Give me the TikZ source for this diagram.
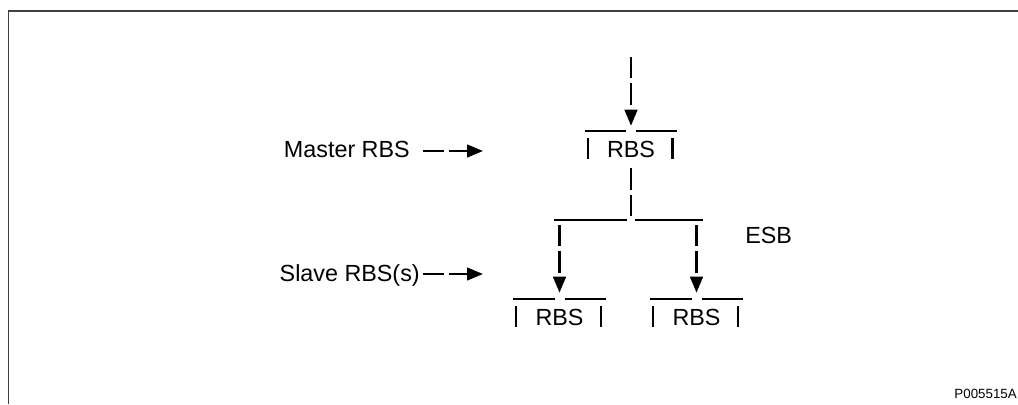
\documentclass[tikz,border=0pt]{standalone}
\usepackage{fontspec}
\setmainfont{Liberation Sans}
\usetikzlibrary{arrows.meta}

\begin{document}
\begin{tikzpicture}[x=0.75pt,y=-0.75pt,
  every node/.style={font=\fontsize{17.5}{20}\selectfont,text=black},
  rbs/.style={minimum width=69pt,minimum height=27pt,inner sep=0pt},
  lbl/.style={inner sep=0pt},
  bar/.style={line width=1.8pt,black},
  dashline/.style={line width=1.8pt,black,dash pattern=on 16pt off 3.75pt},
  dasharrow/.style={dashline,-{Triangle[length=12pt,width=9.5pt]}}]
  \useasboundingbox (0,0) rectangle (1018,404);
  \draw[line width=1.2pt,black!75] (8.5,404) -- (8.5,11) -- (1018,11);
  % stations
  \node[rbs] (master) at (631,149) {RBS};
  \node[rbs] (slaveA) at (559.5,317) {RBS};
  \node[rbs] (slaveB) at (696.5,317) {RBS};
  \coordinate (feed) at (631,57);
  \coordinate (bus) at (631,220);
  % open frames round the stations
  \foreach \b in {master,slaveA,slaveB}{
    \draw[bar] (\b.north west) -- ([xshift=-3.75pt]\b.north);
    \draw[bar] ([xshift=3.75pt]\b.north) -- (\b.north east);
    \draw[bar] ([xshift=2.25pt,yshift=-5.25pt]\b.north west) -- ([xshift=2.25pt,yshift=-21pt]\b.north west);
    \draw[bar] ([xshift=-3.5pt,yshift=-5.25pt]\b.north east) -- ([xshift=-3.5pt,yshift=-21pt]\b.north east);
  }
  % labels
  \node[lbl,anchor=base east] (mlabel) at (410,157) {Master RBS};
  \node[lbl,anchor=base east] (slabel) at (420,281) {Slave RBS(s)};
  \node[lbl,anchor=base west] (esb) at (745,243) {ESB};
  \node[lbl,anchor=base east,font=\fontsize{10}{12}\selectfont] (code) at (1017,398) {P005515A};
  \coordinate (mtip) at (483,151);
  \coordinate (stip) at (483,274);
  % links
  \draw[dasharrow] (feed) -- ([yshift=3.75pt]master.north);
  \draw[dashline] ([yshift=-0.75pt]master.south) -- ([yshift=1.5pt]bus);
  \draw[bar] ([xshift=-4.5pt]bus -| slaveA) -- ([xshift=-3pt]bus);
  \draw[bar] ([xshift=3pt]bus) -- ([xshift=4.5pt]bus -| slaveB);
  \draw[dasharrow] ([yshift=-3.75pt]bus -| slaveA) -- ([yshift=4.5pt]slaveA.north);
  \draw[dasharrow] ([yshift=-3.75pt]bus -| slaveB) -- ([yshift=4.5pt]slaveB.north);
  \draw[dasharrow] ([xshift=9.75pt]mlabel.east |- mtip) -- (mtip);
  \draw[dasharrow] ([xshift=2pt]slabel.east |- stip) -- (stip);
\end{tikzpicture}
\end{document}
